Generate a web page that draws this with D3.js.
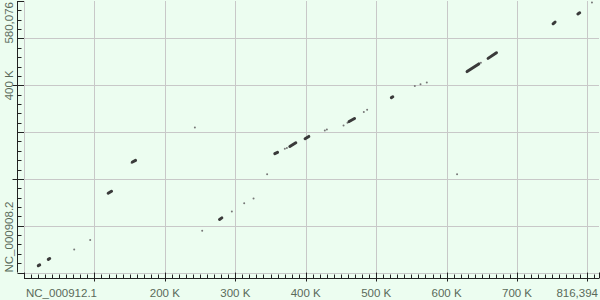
<!DOCTYPE html>
<html lang="en">
<head>
<meta charset="UTF-8">
<title>Dot plot</title>
<script src="https://d3js.org/d3.v7.min.js"></script>
<style>
    body { margin: 0; background: #ecfdf0; }
    svg text { font-family: "Liberation Sans", Arial, sans-serif; font-size: 11.5px; fill: #5a6a5a; }
</style>
</head>
<body>
<div id="chart"></div>
<script>
    // sequences
    const xName = "NC_000912.1", xLength = 816394;
    const yName = "NC_000908.2", yLength = 580076;

    // labelled ticks
    const xTickValues = [200000, 300000, 400000, 500000, 600000, 700000];
    const yTickValues = [400000];
    const yLongTicks = [200000, 400000];

    // strong matches: [xStart, yStart, xEnd, yEnd]
    const strongMatches = [
        [20300, 14600, 22300, 16300],
        [34500, 28000, 36500, 29800],
        [119500, 169300, 124300, 173600],
        [154000, 236000, 158400, 239600],
        [277600, 113300, 280900, 116700],
        [356100, 253900, 360000, 256700],
        [377400, 269400, 385900, 277300],
        [399100, 285800, 404400, 290700],
        [461600, 322700, 469300, 329100],
        [521600, 373600, 523600, 375400],
        [629100, 429200, 645700, 445600],
        [658900, 457500, 670800, 469600],
        [751200, 531400, 754000, 535000],
        [786400, 552300, 789000, 554800]
    ];

    // weak single hits: [x, y]
    const weakMatches = [
        [71300, 49400], [94000, 69200], [152700, 234700], [242600, 310000],
        [253000, 89000], [295100, 130400], [312600, 148000], [325900, 158000],
        [345200, 209800], [370300, 264500], [373200, 265800], [427100, 303500],
        [430000, 305600], [453700, 314200], [459300, 319900], [482500, 343000],
        [487200, 347600], [554900, 398700], [563000, 402100], [571900, 405700],
        [614900, 209800], [648700, 448400], [806400, 576800]
    ];

    const W = 600, H = 300;
    const plot = { left: 24, right: 599, top: 1, bottom: 272.5 };

    const x = d3.scaleLinear().domain([0, xLength]).range([plot.left, plot.right]);
    const y = d3.scaleLinear().domain([0, yLength]).range([plot.bottom, plot.top]);

    const svg = d3.select("#chart").append("svg")
        .attr("width", W)
        .attr("height", H);

    svg.append("rect")
        .attr("width", W).attr("height", H)
        .attr("fill", "#ecfdf0");

    // grid
    const grid = svg.append("g").attr("stroke", "#c8c8c8").attr("stroke-width", 1);
    grid.selectAll(".gx")
        .data(d3.range(0, xLength, 100000))
        .join("line")
        .attr("x1", d => Math.round(x(d)) + 0.5).attr("x2", d => Math.round(x(d)) + 0.5)
        .attr("y1", plot.top).attr("y2", plot.bottom);
    grid.selectAll(".gy")
        .data(d3.range(0, yLength, 100000))
        .join("line")
        .attr("y1", d => Math.round(y(d)) + 0.5).attr("y2", d => Math.round(y(d)) + 0.5)
        .attr("x1", plot.left).attr("x2", plot.right);

    // x axis
    const axY = 278.5;
    const xa = svg.append("g").attr("stroke", "#222").attr("stroke-width", 1);
    xa.append("line").attr("x1", x(0)).attr("x2", x(xLength)).attr("y1", axY).attr("y2", axY);
    xa.selectAll(".mn")
        .data(d3.range(0, xLength, 10000).concat([xLength]))
        .join("line")
        .attr("x1", d => Math.round(x(d)) + 0.5).attr("x2", d => Math.round(x(d)) + 0.5)
        .attr("y1", axY).attr("y2", d => d % 100000 === 0 || d === xLength ? plot.bottom : axY - 4);
    xa.selectAll(".mj")
        .data(d3.range(100000, xLength, 100000))
        .join("line")
        .attr("x1", d => Math.round(x(d)) + 0.5).attr("x2", d => Math.round(x(d)) + 0.5)
        .attr("y1", axY).attr("y2", axY + 3);

    svg.selectAll(".xl")
        .data(xTickValues)
        .join("text")
        .attr("x", d => x(d)).attr("y", 297)
        .attr("text-anchor", "middle")
        .text(d => d3.format("d")(d / 1000) + " K");
    svg.append("text").attr("x", x(0) + 2).attr("y", 297).text(xName);
    svg.append("text").attr("x", x(xLength) - 1).attr("y", 297)
        .attr("text-anchor", "end").text(d3.format(",")(xLength));

    // y axis
    const axX = 17.5;
    const ya = svg.append("g").attr("stroke", "#222").attr("stroke-width", 1);
    ya.append("line").attr("x1", axX).attr("x2", axX).attr("y1", y(yLength)).attr("y2", y(0));
    ya.selectAll(".mn")
        .data(d3.range(0, yLength, 20000).concat([yLength]))
        .join("line")
        .attr("y1", d => Math.round(y(d)) + 0.5).attr("y2", d => Math.round(y(d)) + 0.5)
        .attr("x1", axX).attr("x2", d => d % 100000 === 0 || d === yLength ? plot.left : axX + 4);
    ya.selectAll(".mj")
        .data(yLongTicks)
        .join("line")
        .attr("y1", d => Math.round(y(d)) + 0.5).attr("y2", d => Math.round(y(d)) + 0.5)
        .attr("x1", axX - 5).attr("x2", axX);

    const yLabel = (pos, anchor, txt) => svg.append("text")
        .attr("transform", `translate(13,${pos}) rotate(-90)`)
        .attr("text-anchor", anchor)
        .text(txt);
    yTickValues.forEach(d => yLabel(y(d), "middle", d3.format("d")(d / 1000) + " K"));
    yLabel(y(yLength) + 1, "end", d3.format(",")(yLength));
    yLabel(y(0), "start", yName);

    // matches
    svg.append("g").selectAll("circle")
        .data(weakMatches)
        .join("circle")
        .attr("cx", d => x(d[0])).attr("cy", d => y(d[1]))
        .attr("r", 1)
        .attr("fill", "#777");

    svg.append("g").selectAll("line")
        .data(strongMatches)
        .join("line")
        .attr("x1", d => x(d[0])).attr("y1", d => y(d[1]))
        .attr("x2", d => x(d[2])).attr("y2", d => y(d[3]))
        .attr("stroke", "#3a3a3a")
        .attr("stroke-width", 3)
        .attr("stroke-linecap", "round");
</script>
</body>
</html>
